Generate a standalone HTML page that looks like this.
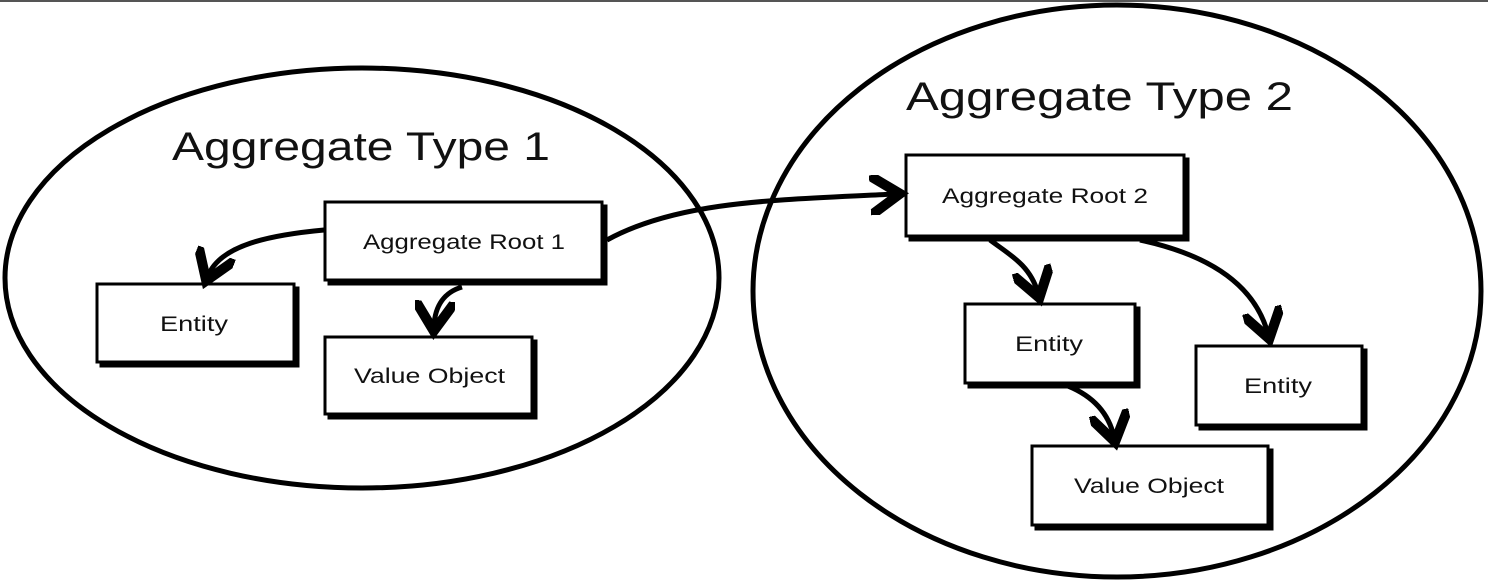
<!DOCTYPE html>
<html><head><style>
html,body{margin:0;padding:0;background:#fff;width:1488px;height:584px;overflow:hidden}
svg text{font-family:"Liberation Sans",sans-serif;fill:#111}
</style></head><body>
<svg width="1488" height="584" viewBox="0 0 1488 584">
<defs>
<marker id="a" markerWidth="8" markerHeight="8" refX="5" refY="4" orient="auto" markerUnits="strokeWidth">
<path d="M0,0 L6,4 L0,8" fill="none" stroke="#000" stroke-width="2"/>
</marker>
</defs>
<rect x="0" y="0" width="1488" height="584" fill="#fff"/>
<line x1="0" y1="1" x2="1488" y2="1" stroke="#555" stroke-width="2"/>
<g fill="none" stroke="#000" stroke-width="5">
<ellipse cx="362" cy="278" rx="357" ry="210"/>
<ellipse cx="1117" cy="291" rx="364" ry="286"/>
</g>
<text x="172" y="160" font-size="40" textLength="378" lengthAdjust="spacingAndGlyphs">Aggregate Type 1</text>
<text x="906" y="110" font-size="40" textLength="387" lengthAdjust="spacingAndGlyphs">Aggregate Type 2</text>
<g stroke="#000" stroke-width="3">
<rect x="329" y="206" width="277" height="78" fill="#000"/>
<rect x="325" y="202" width="277" height="78" fill="#fff"/>
<rect x="101" y="288" width="197" height="78" fill="#000"/>
<rect x="97" y="284" width="197" height="78" fill="#fff"/>
<rect x="329" y="341" width="207" height="77" fill="#000"/>
<rect x="325" y="337" width="207" height="77" fill="#fff"/>
<rect x="910" y="159" width="278" height="81" fill="#000"/>
<rect x="906" y="155" width="278" height="81" fill="#fff"/>
<rect x="969" y="308" width="170" height="79" fill="#000"/>
<rect x="965" y="304" width="170" height="79" fill="#fff"/>
<rect x="1200" y="350" width="166" height="79" fill="#000"/>
<rect x="1196" y="346" width="166" height="79" fill="#fff"/>
<rect x="1036" y="450" width="236" height="79" fill="#000"/>
<rect x="1032" y="446" width="236" height="79" fill="#fff"/>
</g>
<g font-size="21" lengthAdjust="spacingAndGlyphs">
<text x="363" y="249" textLength="202" lengthAdjust="spacingAndGlyphs">Aggregate Root 1</text>
<text x="160" y="331" textLength="68" lengthAdjust="spacingAndGlyphs">Entity</text>
<text x="354" y="383" textLength="151" lengthAdjust="spacingAndGlyphs">Value Object</text>
<text x="942" y="203" textLength="206" lengthAdjust="spacingAndGlyphs">Aggregate Root 2</text>
<text x="1015" y="351" textLength="68" lengthAdjust="spacingAndGlyphs">Entity</text>
<text x="1244" y="393" textLength="68" lengthAdjust="spacingAndGlyphs">Entity</text>
<text x="1074" y="493" textLength="150" lengthAdjust="spacingAndGlyphs">Value Object</text>
</g>
<g fill="none" stroke="#000" stroke-width="5" marker-end="url(#a)">
<path d="M324,230 C270,235 220,245 208,276"/>
<path d="M462,287 C445,292 435,305 434,326"/>
<path d="M607,240 C680,200 780,200 895,194"/>
<path d="M990,240 C1010,255 1030,265 1038,293"/>
<path d="M1140,240 C1210,255 1255,285 1268,334"/>
<path d="M1068,386 C1090,395 1108,410 1114,437"/>
</g>
</svg>
</body></html>
